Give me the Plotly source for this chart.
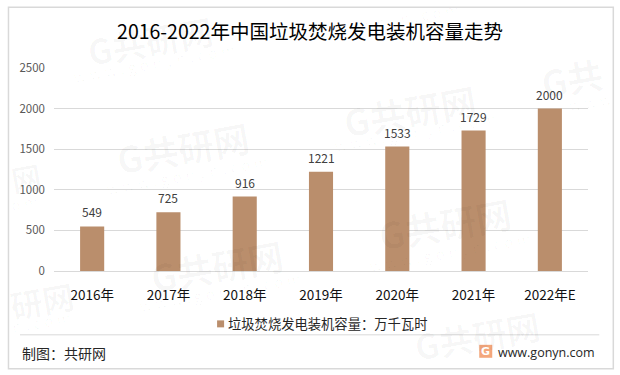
import plotly.graph_objects as go

categories = ["2016年", "2017年", "2018年", "2019年", "2020年", "2021年", "2022年E"]
capacity = [549, 725, 916, 1221, 1533, 1729, 2000]
series_name = "垃圾焚烧发电装机容量：万千瓦时"
y_ticks = [0, 500, 1000, 1500, 2000, 2500]

W, H = 620, 375
L, R, T, B = 54, 587.7, 67.5, 271
CJK = "Noto Sans CJK SC"


def px(x):
    return (x - L) / (R - L)


def py(y):
    return (B - y) / (B - T)


fig = go.Figure(go.Bar(
    x=categories, y=capacity, name=series_name,
    marker=dict(color="#BA8E6C", line_width=0),
    showlegend=False,
))

shapes = [
    dict(type="rect", xref="paper", yref="paper", x0=px(8.5), x1=px(613), y0=py(6.5), y1=py(369),
         line=dict(color="#D9D9D9", width=1.5), fillcolor="rgba(0,0,0,0)", layer="below"),
    dict(type="line", xref="paper", yref="paper", x0=px(20), x1=px(599), y0=py(335), y1=py(335),
         line=dict(color="#D9D9D9", width=1)),
    dict(type="rect", xref="paper", yref="paper", x0=px(479), x1=px(492), y0=py(345), y1=py(358),
         line_width=0, fillcolor="#F4A77C"),
    dict(type="rect", xref="paper", yref="paper", x0=px(217), x1=px(224), y0=py(320.5), y1=py(327.5),
         line_width=0, fillcolor="#BA8E6C"),
]

annotations = [
    dict(text=series_name, x=px(225.5), y=py(324), xanchor="left", yanchor="middle",
         font=dict(family=CJK, size=13.3, color="#262626")),
    dict(text="制图：共研网", x=px(20), y=py(353), xanchor="left", yanchor="middle",
         font=dict(family=CJK, size=14, color="#262626")),
    dict(text="www.gonyn.com", x=px(495.5), y=py(352.5), xanchor="left", yanchor="middle",
         font=dict(family="Open Sans", size=12.5, color="#262626")),
    dict(text="<b>G</b>", x=px(485.5), y=py(351.5), xanchor="center", yanchor="middle",
         font=dict(family="DejaVu Sans", size=11, color="#FFFFFF")),
]

# value labels, sitting above each bar
for cat, val in zip(categories, capacity):
    fig.add_annotation(x=cat, y=val, text=str(val), showarrow=False, yanchor="bottom", yshift=4,
                       font=dict(family=CJK, size=12, color="#404040"))

# faint background watermarks: (x, y, text, size, is-main)
marks = [
    (150, 40, "G共研网", 34, True), (154, 62, "w w w . g o n y n . c o m", 15, False),
    (183, 147, "G共研网", 36, True), (187, 175, "w w w . g o n y n . c o m", 15, False),
    (410, 110, "G共研网", 36, True), (415, 132, "w w w . g o n y n . c o m", 15, False),
    (217, 265, "G共研网", 36, True), (220, 292, "w w w . g o n y n . c o m", 15, False),
    (445, 223, "G共研网", 36, True), (450, 252, "w w w . g o n y n . c o m", 15, False),
    (477, 336, "G共研网", 34, True),
    (572, 77, "G共", 36, True), (590, 102, "w w w", 15, False),
    (42, 300, "研网", 32, True), (42, 322, "n . c o m", 15, False),
    (26, 177, "网", 30, True), (25, 203, "o m", 15, False),
    (405, 17, "g o n y n . c o m", 15, False),
]
for mx, my, mt, ms, main in marks:
    annotations.append(dict(text=f"<b>{mt}</b>" if main else mt, x=px(mx), y=py(my), textangle=-10,
                            xanchor="center", yanchor="middle",
                            font=dict(family=CJK if main else "Open Sans", size=ms,
                                      color="rgba(0,0,0,0.03)")))
for a in annotations:
    a.update(xref="paper", yref="paper", showarrow=False)

fig.update_layout(
    width=W, height=H, autosize=False,
    margin=dict(l=L, r=W - R, t=T, b=H - B),
    paper_bgcolor="white", plot_bgcolor="rgba(0,0,0,0)",
    bargap=0.684,
    title=dict(text="2016-2022年中国垃圾焚烧发电装机容量走势", x=0.5, xanchor="center", xref="container",
               y=1 - 32 / H, yanchor="middle", yref="container",
               font=dict(family=CJK, size=19.5, color="#000000")),
    font=dict(family=CJK),
    shapes=shapes,
)
for a in annotations:
    fig.add_annotation(**a)
fig.update_xaxes(showgrid=False, showline=True, linecolor="#D9D9D9", linewidth=1, ticks="", ticklen=0,
                 tickfont=dict(family=CJK, size=13.5, color="#111111"), ticklabelstandoff=12, fixedrange=True)
fig.update_yaxes(range=[0, 2500], tickvals=y_ticks, gridcolor="#D9D9D9", gridwidth=1, zeroline=False,
                 showline=False, tickfont=dict(family=CJK, size=11.5, color="#595959"), ticklabelstandoff=8, fixedrange=True)

fig.write_html("out.html", post_script="document.body.style.margin='0';document.documentElement.style.overflow='hidden';",
               config={"displayModeBar": False})
